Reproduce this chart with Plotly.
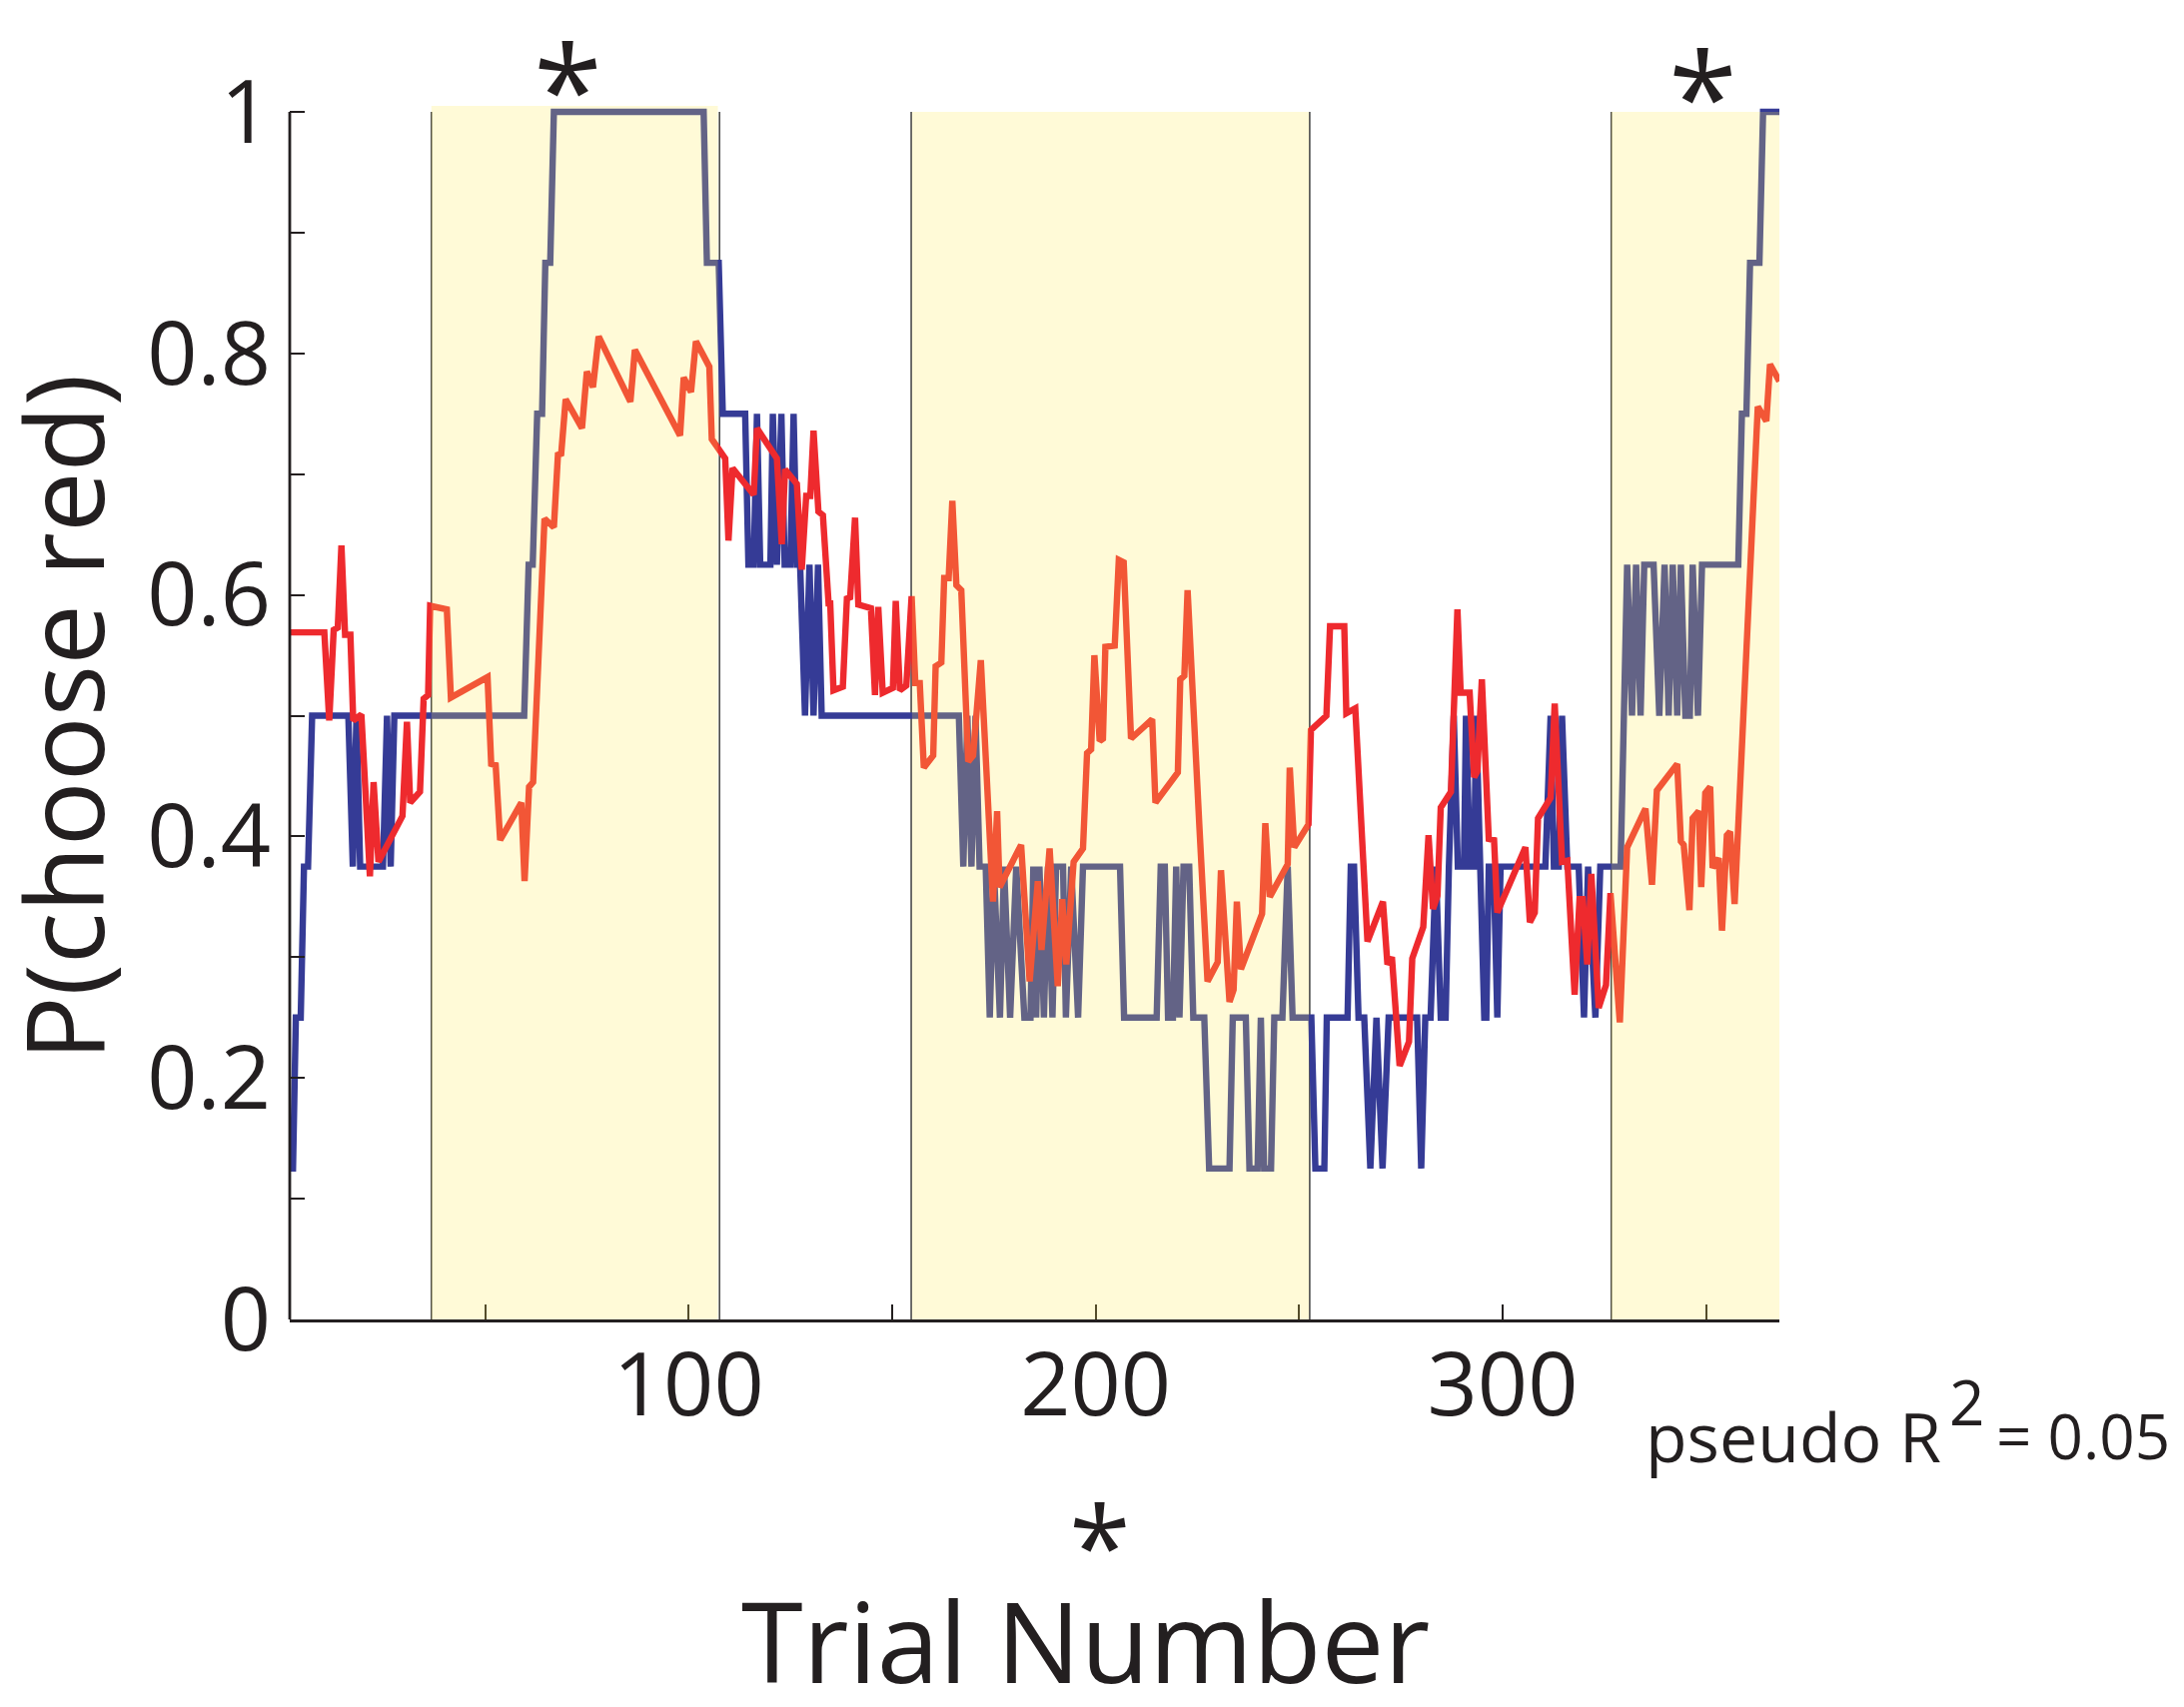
import plotly.graph_objects as go

# ---------------- data ----------------
# observed choice proportion (8-trial running average) - vertices of the line
blue_x = [2, 2.8, 3.5, 4.7, 5.5, 6.5, 7.5, 16.4, 17.5, 18.4, 19.3, 24.9, 25.9, 26.8, 27.7,
          59.6, 60.7, 61.7, 62.8, 64.0, 64.8, 66.0, 66.9, 103.7, 104.5, 107.4, 108.4, 113.9,
          114.7, 116.0, 116.8, 117.6, 120.1, 120.7, 121.7, 122.8, 123.6, 125.0, 125.8, 126.6,
          127.4, 128.6, 129.7, 130.7, 131.8, 132.7,
          166.4, 167.5, 168.5, 169.5, 170.5, 171.5, 173.0, 174.0, 175.0, 176.5, 177.5, 179.0,
          180.5, 182.5, 184.0, 184.7, 185.4, 186.2, 187.3, 188.3, 189.4, 190.3, 192.0, 192.7,
          194.0, 195.7, 196.9, 206.0, 207.0, 215.0, 216.0, 217.0, 217.8, 219.0, 219.8, 220.6,
          221.6, 223.0, 224.0, 226.7, 227.9, 232.9, 233.7, 236.9, 237.8, 239.8, 240.6, 241.4,
          243.1, 243.9, 245.9, 247.2, 248.4, 253.0, 254.0, 256.2, 256.8, 261.9, 262.7, 263.5,
          264.6, 266.0, 267.5, 269.0, 270.5, 272.0, 279.0, 280.0, 281.0, 282.3, 283.6, 284.8,
          286.0, 286.8, 288.0, 289.0, 290.5, 291.0, 292.0, 293.0, 293.5, 294.5, 295.5, 296.0,
          296.6, 297.8, 298.7, 299.5, 310.5, 311.8, 312.6, 313.8, 314.6, 315.9, 318.7, 320.0,
          321.0, 322.8, 324.0, 329.0, 329.8, 330.6, 331.8, 332.8, 333.9, 334.8, 337.1, 338.5,
          339.8, 340.8, 341.8, 342.9, 343.8, 344.9, 346.0, 346.7, 348.0, 349.0, 357.9, 358.8,
          359.9, 360.8, 363.1, 364.0, 368.0]
blue_y = [0.125, 0.125, 0.25, 0.25, 0.375, 0.375, 0.5, 0.5, 0.375, 0.5, 0.375, 0.375, 0.5, 0.375, 0.5,
          0.5, 0.625, 0.625, 0.75, 0.75, 0.875, 0.875, 1.0, 1.0, 0.875, 0.875, 0.75, 0.75,
          0.625, 0.625, 0.75, 0.625, 0.625, 0.75, 0.625, 0.75, 0.625, 0.625, 0.75, 0.625,
          0.625, 0.5, 0.625, 0.5, 0.625, 0.5,
          0.5, 0.375, 0.5, 0.375, 0.5, 0.375, 0.375, 0.25, 0.375, 0.25, 0.375, 0.25,
          0.375, 0.25, 0.25, 0.375, 0.25, 0.375, 0.25, 0.375, 0.25, 0.375, 0.375, 0.25,
          0.375, 0.25, 0.375, 0.375, 0.25, 0.25, 0.375, 0.375, 0.25, 0.25, 0.375, 0.25,
          0.375, 0.375, 0.25, 0.25, 0.125, 0.125, 0.25, 0.25, 0.125, 0.125, 0.25, 0.125,
          0.125, 0.25, 0.25, 0.375, 0.25, 0.25, 0.125, 0.125, 0.25, 0.25, 0.375, 0.375,
          0.25, 0.25, 0.125, 0.25, 0.125, 0.25, 0.25, 0.125, 0.25, 0.25, 0.375, 0.25,
          0.25, 0.375, 0.5, 0.375, 0.375, 0.5, 0.375, 0.375, 0.5, 0.375, 0.25, 0.25,
          0.375, 0.375, 0.25, 0.375, 0.375, 0.5, 0.375, 0.375, 0.5, 0.375, 0.375, 0.25,
          0.375, 0.25, 0.375, 0.375, 0.5, 0.625, 0.5, 0.625, 0.5, 0.625, 0.625, 0.5,
          0.625, 0.5, 0.625, 0.5, 0.625, 0.5, 0.5, 0.625, 0.5, 0.625, 0.625, 0.75,
          0.75, 0.875, 0.875, 1.0, 1.0]

# model prediction - vertices of the line
red_x = [2, 10.5, 11.7, 12.8, 13.8, 14.7, 15.6, 16.9, 17.6, 19.6, 21.7, 22.6, 23.8, 29.7, 30.8,
         31.6, 34.0, 34.9, 36.0, 36.5, 40.6, 41.6, 50.6, 51.5, 52.6, 53.7, 58.9, 59.7, 60.8,
         61.8, 64.6, 66.9, 67.9, 68.7, 69.8, 73.8, 75.0, 76.5, 77.9, 85.7, 86.8, 97.9, 98.8,
         100.6, 101.8, 105.1, 105.7, 107.8, 109.0, 109.8, 110.8, 116.0, 116.8, 121.7, 122.9,
         123.7, 126.6, 127.8, 128.9, 129.9, 130.7, 131.9, 133.0, 134.4, 134.8, 135.6, 137.9,
         138.9, 139.7, 140.9, 141.7, 144.8, 145.8, 146.6, 147.7, 150.2, 150.9, 151.9, 153.5,
         154.8, 155.7, 156.8, 157.8, 160.1, 160.7, 162.1, 162.8, 163.9, 164.8, 165.8, 167.0,
         168.7, 169.9, 171.8, 174.8, 175.8, 176.4, 181.7, 183.8, 185.8, 186.7, 188.7, 190.7,
         191.8, 192.8, 194.6, 196.9, 197.9, 198.9, 199.7, 201.0, 201.8, 202.4, 204.7, 205.7,
         206.9, 208.7, 213.9, 214.7, 220.2, 220.8, 221.8, 222.6, 225.5, 227.5, 230.0, 230.8,
         232.9, 233.9, 234.7, 235.7, 240.9, 241.7, 242.8, 247.2, 247.7, 248.8, 252.3, 252.9,
         256.7, 257.6, 261.1, 261.6, 263.8, 266.8, 270.6, 271.7, 272.8, 274.7, 277.0, 277.8,
         280.5, 281.8, 282.9, 284.0, 284.8, 287.3, 288.9, 289.7, 291.9, 293.0, 293.8, 294.9,
         296.6, 297.9, 298.7, 305.6, 306.7, 307.9, 308.7, 311.8, 312.8, 314.6, 315.9, 317.7,
         318.9, 319.7, 320.8, 321.8, 323.6, 325.4, 326.5, 328.8, 330.6, 335.1, 336.7, 337.9,
         342.9, 343.8, 344.5, 345.9, 346.7, 348.2, 348.8, 349.8, 351.0, 351.6, 353.1, 353.9,
         355.1, 355.9, 357.0, 362.7, 364.8, 365.7, 368.0]
red_y = [0.569, 0.569, 0.496, 0.571, 0.573, 0.641, 0.567, 0.567, 0.496, 0.501, 0.367, 0.445, 0.379, 0.417, 0.495,
         0.428, 0.437, 0.514, 0.517, 0.591, 0.588, 0.515, 0.532, 0.460, 0.459, 0.397, 0.428, 0.363, 0.441,
         0.445, 0.663, 0.656, 0.716, 0.717, 0.762, 0.738, 0.785, 0.772, 0.814, 0.760, 0.803, 0.732, 0.780,
         0.768, 0.810, 0.789, 0.729, 0.718, 0.713, 0.645, 0.705, 0.683, 0.738, 0.713, 0.642,
         0.704, 0.692, 0.621, 0.682, 0.682, 0.736, 0.669, 0.666, 0.593, 0.593, 0.521, 0.524,
         0.597, 0.598, 0.664, 0.592, 0.589, 0.517, 0.590, 0.519, 0.523, 0.595, 0.521, 0.525,
         0.599, 0.527, 0.527, 0.457, 0.467, 0.541, 0.544, 0.614, 0.614, 0.678, 0.608, 0.604,
         0.462, 0.467, 0.546, 0.346, 0.421, 0.358, 0.393, 0.280, 0.363, 0.306, 0.390, 0.276,
         0.348, 0.294, 0.379, 0.390, 0.469, 0.472, 0.550, 0.479, 0.481, 0.557, 0.558, 0.629,
         0.627, 0.481, 0.497, 0.428, 0.453, 0.530, 0.533, 0.604, 0.408, 0.280, 0.296, 0.372,
         0.263, 0.273, 0.346, 0.290, 0.336, 0.411, 0.350, 0.377, 0.457, 0.391, 0.410, 0.488,
         0.500, 0.574, 0.574, 0.502, 0.506, 0.313, 0.346, 0.294, 0.300, 0.210, 0.230, 0.299,
         0.325, 0.401, 0.340, 0.351, 0.424, 0.437, 0.588, 0.519, 0.519, 0.449, 0.454, 0.530,
         0.398, 0.397, 0.337, 0.391, 0.329, 0.337, 0.415, 0.432, 0.510, 0.379, 0.380, 0.269,
         0.348, 0.348, 0.294, 0.369, 0.258, 0.277, 0.353, 0.246, 0.391, 0.423, 0.360, 0.438,
         0.460, 0.396, 0.393, 0.339, 0.415, 0.421, 0.358, 0.436, 0.441, 0.374, 0.382, 0.322,
         0.401, 0.404, 0.344, 0.756, 0.744, 0.791, 0.777]

# shaded trial blocks (start trial, end trial, top)
block_start = [36.8, 154.9, 326.7]
block_end = [107.2, 252.4, 368.0]
block_top = [1.0055, 1.0, 1.0]
# block boundary trials
boundary_trials = [36.8, 107.6, 154.7, 252.6, 326.7]

x_tick_vals = [50, 100, 150, 200, 250, 300, 350]
x_tick_text = ["", "100", "", "200", "", "300", ""]
y_tick_vals = [0, 0.1, 0.2, 0.3, 0.4, 0.5, 0.6, 0.7, 0.8, 0.9, 1.0]
y_tick_text = ["0", "", "0.2", "", "0.4", "", "0.6", "", "0.8", "", "1"]
top_tick_vals = [100, 200, 300]

# ---------------- figure ----------------
INK = "#231f20"
FONT = "Open Sans"

fig = go.Figure()
fig.add_trace(go.Scatter(x=blue_x, y=blue_y, mode="lines",
                         line=dict(color="#353b96", width=6.4), hoverinfo="skip"))
fig.add_trace(go.Scatter(x=red_x, y=red_y, mode="lines",
                         line=dict(color="#ee2a2e", width=6.4), hoverinfo="skip"))

shapes = []
for t in boundary_trials:
    shapes.append(dict(type="line", xref="x", yref="y", x0=t, x1=t, y0=0, y1=1.0,
                       line=dict(color="#4a4a4a", width=1.6), layer="below"))
for s, e, top in zip(block_start, block_end, block_top):
    shapes.append(dict(type="rect", xref="x", yref="y", x0=s, x1=e, y0=0, y1=top,
                       fillcolor="rgb(255,233,80)", opacity=0.23,
                       line=dict(width=0), layer="above"))
# y axis line (ends at 1)
shapes.append(dict(type="line", xref="paper", yref="y", x0=0, x1=0, y0=0, y1=1.0,
                   line=dict(color=INK, width=2.8), layer="above"))

annotations = [
    dict(text="P(choose red)", xref="paper", yref="paper", x=-0.1522, y=0.4963,
         textangle=-90, showarrow=False, xanchor="center", yanchor="middle",
         font=dict(family=FONT, size=108, color=INK)),
    dict(text="Trial Number", xref="paper", yref="paper", x=0.5339, y=-0.2640,
         showarrow=False, xanchor="center", yanchor="middle",
         font=dict(family=FONT, size=112, color=INK)),
    dict(text="*", xref="paper", yref="paper", x=0.5439, y=-0.1845,
         showarrow=False, xanchor="center", yanchor="middle",
         font=dict(family=FONT, size=112, color=INK)),
    dict(text="*", xref="paper", yref="paper", x=0.1865, y=1.0155,
         showarrow=False, xanchor="center", yanchor="middle",
         font=dict(family=FONT, size=125, color=INK)),
    dict(text="*", xref="paper", yref="paper", x=0.9484, y=1.0095,
         showarrow=False, xanchor="center", yanchor="middle",
         font=dict(family=FONT, size=125, color=INK)),
    dict(text="pseudo R", xref="paper", yref="paper", x=0.9088, y=-0.0958,
         showarrow=False, xanchor="left", yanchor="middle",
         font=dict(family=FONT, size=68, color=INK)),
    dict(text="2", xref="paper", yref="paper", x=1.1257, y=-0.0671,
         showarrow=False, xanchor="center", yanchor="middle",
         font=dict(family=FONT, size=62, color=INK)),
    dict(text="= 0.05", xref="paper", yref="paper", x=1.1442, y=-0.0958,
         showarrow=False, xanchor="left", yanchor="middle",
         font=dict(family=FONT, size=62, color=INK)),
]

fig.update_layout(
    width=2186, height=1709,
    margin=dict(l=290, r=405, t=105.5, b=387.5, pad=0),
    plot_bgcolor="white", paper_bgcolor="white",
    showlegend=False,
    font=dict(family=FONT, color=INK),
    shapes=shapes, annotations=annotations,
    xaxis=dict(range=[2, 368], showgrid=False, zeroline=False,
               showline=True, linecolor=INK, linewidth=2.8,
               ticks="inside", ticklen=15, tickwidth=2, tickcolor=INK,
               tickmode="array", tickvals=x_tick_vals, ticktext=x_tick_text,
               tickfont=dict(family=FONT, size=88, color=INK),
               ticklabelstandoff=-13),
    xaxis2=dict(range=[2, 368], overlaying="x", side="top", anchor="y",
                showgrid=False, zeroline=False, showline=False,
                ticks="inside", ticklen=13, tickwidth=1.5, tickcolor=INK,
                tickmode="array", tickvals=top_tick_vals, showticklabels=False),
    yaxis=dict(range=[0, 1.005], showgrid=False, zeroline=False, showline=False,
               ticks="inside", ticklen=15, tickwidth=2, tickcolor=INK,
               tickmode="array", tickvals=y_tick_vals, ticktext=y_tick_text,
               tickfont=dict(family=FONT, size=88, color=INK),
               ticklabelstandoff=18),
)

fig.write_html("out.html")
